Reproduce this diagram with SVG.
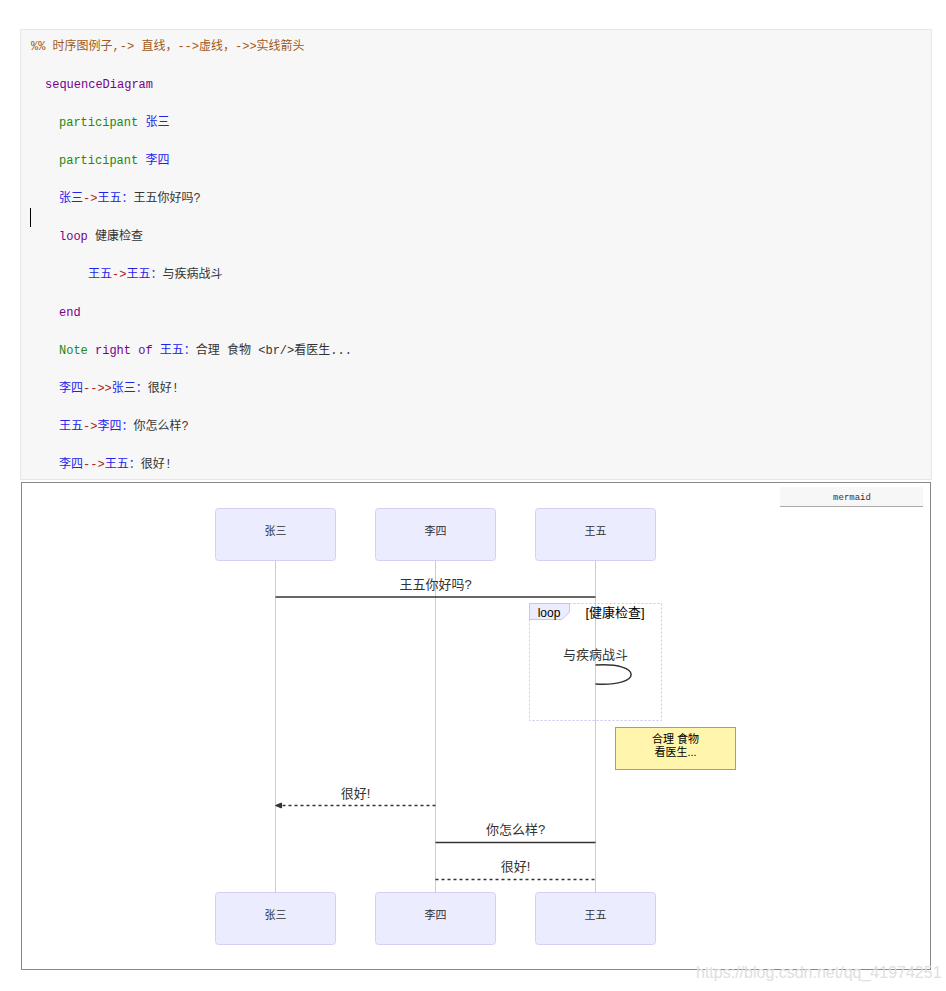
<svg xmlns="http://www.w3.org/2000/svg" width="946" height="991" viewBox="0 0 946 991">
<style>
.code{font-family:"Liberation Mono","Noto Sans CJK SC",monospace;font-size:12px;fill:#333}
.cm{fill:#a05a20}.kw{fill:#770088}.gr{fill:#228811}.nm{fill:#2222ee}.op{fill:#aa2222}
.actor rect{fill:#ececff;stroke:#d4d0f4;stroke-width:1}
.lbl{font-family:"Liberation Sans","Noto Sans CJK SC",sans-serif;fill:#333;text-anchor:middle}
.life{stroke:#cccccc;stroke-width:1}
.msg{stroke:#333;stroke-width:1.5;fill:none}
.dash{stroke-dasharray:3,3}
</style>
<rect width="946" height="991" fill="#fff"/>
<g id="code">
<rect x="20.5" y="29.5" width="911" height="450" fill="#f7f7f7" stroke="#e7e7e7"/>
<text class="code cm" x="31" y="50">%% 时序图例子,-&gt; 直线，--&gt;虚线，-&gt;&gt;实线箭头</text>
<text class="code kw" x="45" y="88">sequenceDiagram</text>
<text class="code" x="59" y="126"><tspan class="gr">participant</tspan> <tspan class="nm">张三</tspan></text>
<text class="code" x="59" y="164"><tspan class="gr">participant</tspan> <tspan class="nm">李四</tspan></text>
<text class="code" x="59" y="202"><tspan class="nm">张三</tspan><tspan class="op">-&gt;</tspan><tspan class="nm">王五：</tspan>王五你好吗?</text>
<line x1="30.5" y1="208" x2="30.5" y2="227" stroke="#000" stroke-width="1"/>
<text class="code" x="59" y="240"><tspan class="kw">loop</tspan> 健康检查</text>
<text class="code" x="88" y="278"><tspan class="nm">王五</tspan><tspan class="op">-&gt;</tspan><tspan class="nm">王五：</tspan>与疾病战斗</text>
<text class="code kw" x="59" y="316">end</text>
<text class="code" x="59" y="354"><tspan class="gr">Note</tspan> <tspan class="kw">right of</tspan> <tspan class="nm">王五：</tspan>合理 食物 &lt;br/&gt;看医生...</text>
<text class="code" x="59" y="392"><tspan class="nm">李四</tspan><tspan class="op">--&gt;&gt;</tspan><tspan class="nm">张三：</tspan>很好!</text>
<text class="code" x="59" y="430"><tspan class="nm">王五</tspan><tspan class="op">-&gt;</tspan><tspan class="nm">李四：</tspan>你怎么样?</text>
<text class="code" x="59" y="468"><tspan class="nm">李四</tspan><tspan class="op">--&gt;</tspan><tspan class="nm">王五：</tspan>很好!</text>
</g>
<rect x="21.5" y="482.5" width="909" height="487" fill="#fff" stroke="#888" stroke-width="1"/>
<g id="mermaid-btn">
<rect x="780" y="487" width="143" height="19" fill="#f7f7f7"/>
<line x1="780" y1="506.5" x2="923" y2="506.5" stroke="#aaa"/>
<text x="852" y="500" font-family="Liberation Mono,monospace" font-size="9" fill="#333" text-anchor="middle">mermaid</text>
</g>
<g id="lifelines">
<line class="life" x1="275.5" y1="560" x2="275.5" y2="892"/>
<line class="life" x1="435.5" y1="560" x2="435.5" y2="892"/>
<line class="life" x1="595.5" y1="560" x2="595.5" y2="892"/>
</g>
<g id="actor-zhangsan-top" class="actor"><rect x="215.5" y="508.5" width="120" height="52" rx="3"/><text class="lbl" x="275.5" y="535" font-size="11">张三</text></g>
<g id="actor-lisi-top" class="actor"><rect x="375.5" y="508.5" width="120" height="52" rx="3"/><text class="lbl" x="435.5" y="535" font-size="11">李四</text></g>
<g id="actor-wangwu-top" class="actor"><rect x="535.5" y="508.5" width="120" height="52" rx="3"/><text class="lbl" x="595.5" y="535" font-size="11">王五</text></g>
<g id="actor-zhangsan-bottom" class="actor"><rect x="215.5" y="892.5" width="120" height="52" rx="3"/><text class="lbl" x="275.5" y="919" font-size="11">张三</text></g>
<g id="actor-lisi-bottom" class="actor"><rect x="375.5" y="892.5" width="120" height="52" rx="3"/><text class="lbl" x="435.5" y="919" font-size="11">李四</text></g>
<g id="actor-wangwu-bottom" class="actor"><rect x="535.5" y="892.5" width="120" height="52" rx="3"/><text class="lbl" x="595.5" y="919" font-size="11">王五</text></g>
<g id="loop">
<rect x="529.5" y="603.5" width="132" height="117" fill="none" stroke="#c8c4f0" stroke-width="1" stroke-dasharray="2,2"/>
<polygon points="529.5,603.5 569.5,603.5 569.5,612 562,619.5 529.5,619.5" fill="#ececff" stroke="#c8c4f0"/>
<text class="lbl" x="549" y="617" font-size="12" style="fill:#000">loop</text>
<text class="lbl" x="615" y="617" font-size="13" style="fill:#000">[健康检查]</text>
</g>
<g id="note">
<rect x="615.5" y="727.5" width="120" height="42" fill="#fff5ad" stroke="#aaaa33"/>
<text class="lbl" x="675.5" y="743" font-size="11" style="fill:#000">合理 食物</text>
<text class="lbl" x="675.5" y="756" font-size="11" style="fill:#000">看医生...</text>
</g>
<g id="connectors">
<line class="msg" x1="275.5" y1="597" x2="595.5" y2="597"/>
<text class="lbl" x="435.5" y="589" font-size="13">王五你好吗?</text>
<path class="msg" d="M595.5,665 C643,662 643,687 595.5,684"/>
<text class="lbl" x="595.5" y="659" font-size="13">与疾病战斗</text>
<line class="msg dash" x1="435.5" y1="805.5" x2="280" y2="805.5"/>
<polygon points="275.5,805.5 281.5,803 281.5,808" fill="#333" stroke="#333" stroke-width="1" stroke-linejoin="round"/>
<text class="lbl" x="355.5" y="798" font-size="13">很好!</text>
<line class="msg" x1="595.5" y1="842.5" x2="435.5" y2="842.5"/>
<text class="lbl" x="515.5" y="834" font-size="13">你怎么样?</text>
<line class="msg dash" x1="435.5" y1="879.5" x2="595.5" y2="879.5"/>
<text class="lbl" x="515.5" y="871" font-size="13">很好!</text>
</g>
<text x="696" y="978" font-family="Liberation Sans,sans-serif" font-size="16" fill="#e0e0e0">https://blog.csdn.net/qq_41974251</text>
</svg>
